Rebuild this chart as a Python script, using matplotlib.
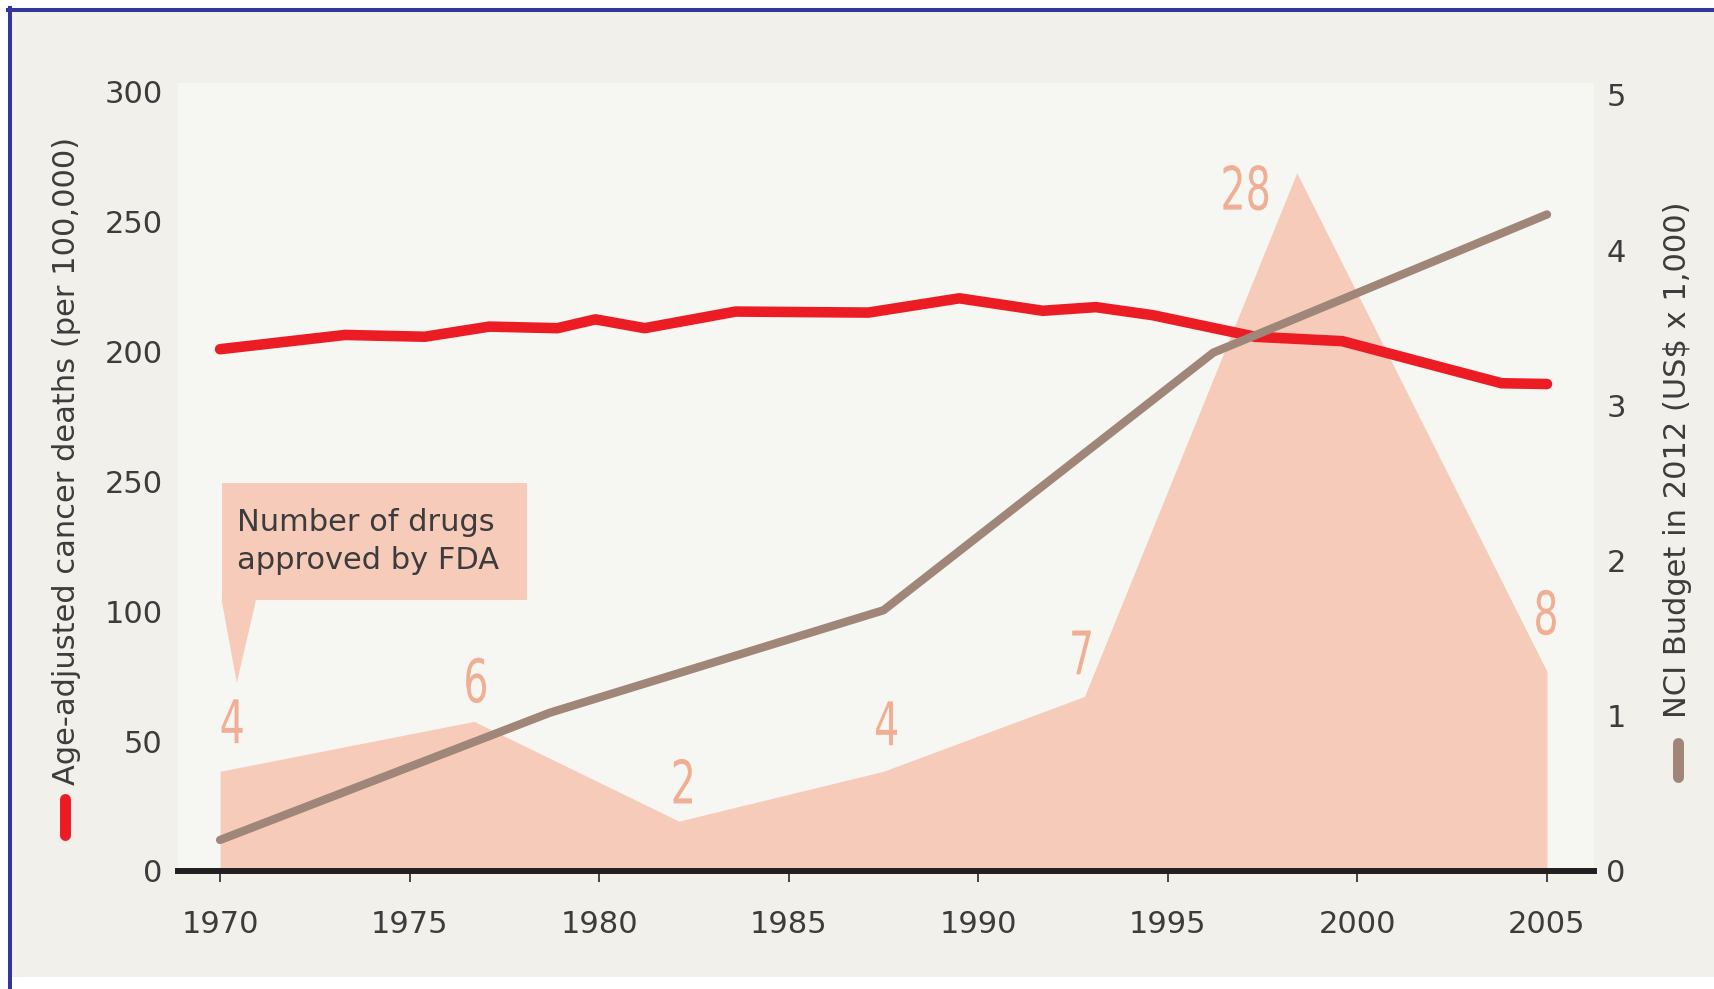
import matplotlib.pyplot as plt
import matplotlib.transforms as mtransforms
from matplotlib.patches import Rectangle, Polygon, PathPatch
from matplotlib.lines import Line2D
from matplotlib.textpath import TextPath
from matplotlib.font_manager import FontProperties

# age-adjusted cancer deaths per 100,000
death_years = [1970, 1973.3, 1975.4, 1977.1, 1978.9, 1979.9, 1981.2, 1983.6,
               1987.1, 1989.5, 1991.7, 1993.1, 1994.6, 1997.3, 1999.6, 2003.8, 2005]
deaths = [200.9, 206.4, 205.7, 209.6, 209.0, 212.4, 209.0, 215.4,
          215.0, 220.5, 215.7, 217.1, 214.0, 205.7, 204.0, 187.8, 187.5]

# NCI budget, 2012 US$ x 1,000
budget_years = [1970, 1978.7, 1987.5, 1996.2, 2005]
budget = [0.20, 1.02, 1.68, 3.34, 4.23]

# drugs approved by FDA
drug_years = [1970, 1976.7, 1982.1, 1987.5, 1992.8, 1998.4, 2005]
drugs = [4, 6, 2, 4, 7, 28, 8]

year_ticks = [1970, 1975, 1980, 1985, 1990, 1995, 2000, 2005]
death_ticks = [0, 50, 100, 150, 200, 250, 300]
death_tick_labels = ['0', '50', '100', '250', '200', '250', '300']
budget_ticks = [0, 1, 2, 3, 4, 5]

RED = '#ec1c24'
BROWN = '#a08679'
PEACH = '#f6cbb9'
PEACH_TXT = '#f0ae94'
TXT = '#3c3c3c'
W, H = 1714, 989

plt.rcParams['font.family'] = ['DejaVu Sans']

fig = plt.figure(figsize=(W / 100, H / 100), dpi=100, facecolor='white')

# page background and blue frame
fig.add_artist(Rectangle((12 / W, 1 - 977 / H), 1 - 12 / W, (977 - 12) / H,
                         transform=fig.transFigure, facecolor='#f1f0ea',
                         edgecolor='none', zorder=0))
fig.add_artist(Line2D([8 / W, 1], [1 - 10 / H, 1 - 10 / H], transform=fig.transFigure,
                      color='#35359a', lw=2.9, zorder=1))
fig.add_artist(Line2D([10 / W, 10 / W], [0, 1 - 8 / H], transform=fig.transFigure,
                      color='#35359a', lw=2.9, zorder=1))

ax = fig.add_axes([178 / W, 1 - 871 / H, (1594 - 178) / W, (871 - 83) / H])
ax.set_facecolor('#f6f6f2')
ax.set_xlim(1968.89, 2006.24)
ax.set_ylim(0, 31.6)

# drug approvals as filled area
ax.fill_between(drug_years, drugs, 0, color=PEACH, lw=0, zorder=1)


def narrow_label(axes, s, x, y, off, size=60, squeeze=0.66):
    # condensed number drawn as a squeezed text path, centred off pixels from (x, y)
    tp = TextPath((0, 0), s, size=size, prop=FontProperties(family='DejaVu Sans'))
    ext = tp.get_extents()
    cx = (ext.x0 + ext.x1) / 2
    cy = (ext.y0 + ext.y1) / 2
    tr = (mtransforms.Affine2D().translate(-cx, -cy).scale(squeeze, 1.0)
          .translate(off[0], off[1])
          + mtransforms.ScaledTranslation(x, y, axes.transData))
    axes.add_artist(PathPatch(tp, transform=tr, facecolor=PEACH_TXT,
                              edgecolor='none', zorder=2))


label_offsets = [(12, 50), (2, 41), (4, 40), (3, 48), (-3, 44), (-51, -15), (-1, 59)]
for yr, n, off in zip(drug_years, drugs, label_offsets):
    narrow_label(ax, str(n), yr, n, off)

for s in ['top', 'left', 'right']:
    ax.spines[s].set_visible(False)
ax.spines['bottom'].set_linewidth(4.3)
ax.spines['bottom'].set_color('#231f20')
ax.spines['bottom'].set_zorder(5)
ax.yaxis.set_visible(False)
ax.set_xticks(year_ticks)
ax.set_xticklabels([str(y) for y in year_ticks])
ax.tick_params(axis='x', direction='out', length=8, width=1.4, color='#444444',
               pad=20, labelsize=22, labelcolor=TXT)

# deaths on the left scale
ax_d = ax.twinx()
ax_d.set_ylim(0, 303.4)
ax_d.yaxis.tick_left()
ax_d.set_yticks(death_ticks)
ax_d.set_yticklabels(death_tick_labels)
ax_d.tick_params(axis='y', length=0, pad=11, labelsize=22, labelcolor=TXT)
for s in ax_d.spines.values():
    s.set_visible(False)
ax_d.plot(death_years, deaths, color=RED, lw=7.6, solid_capstyle='round',
          solid_joinstyle='round', zorder=3)

# callout box for the drug series
ax_d.add_patch(Rectangle((1970.04, 104.4), 8.06, 45.0, facecolor=PEACH,
                         edgecolor='none', zorder=2))
ax_d.add_patch(Polygon([(1970.04, 104.5), (1970.95, 104.5), (1970.44, 72.4)],
                       closed=True, facecolor=PEACH, edgecolor='none', zorder=2))
ax_d.text(1970.44, 127.0, 'Number of drugs\napproved by FDA', ha='left', va='center',
          fontsize=22, color=TXT, linespacing=1.38, zorder=3)

# budget on the right scale
ax_b = ax.twinx()
ax_b.set_ylim(0, 5.077)
ax_b.set_yticks(budget_ticks)
ax_b.tick_params(axis='y', length=0, pad=9, labelsize=22, labelcolor=TXT)
for s in ax_b.spines.values():
    s.set_visible(False)
ax_b.plot(budget_years, budget, color=BROWN, lw=6.0, solid_capstyle='round',
          solid_joinstyle='round', zorder=3)

# axis titles with coloured keys
fig.text(67 / W, 1 - 461 / H, 'Age-adjusted cancer deaths (per 100,000)', rotation=90,
         ha='center', va='center', fontsize=22, color=TXT)
fig.text(1678 / W, 1 - 460 / H, 'NCI Budget in 2012 (US$ x 1,000)', rotation=90,
         ha='center', va='center', fontsize=22, color=TXT)
fig.add_artist(Line2D([65 / W, 65 / W], [1 - 798.5 / H, 1 - 834.5 / H],
                      transform=fig.transFigure, color=RED, lw=7.9,
                      solid_capstyle='round'))
fig.add_artist(Line2D([1678 / W, 1678 / W], [1 - 742.5 / H, 1 - 776.5 / H],
                      transform=fig.transFigure, color=BROWN, lw=7.9,
                      solid_capstyle='round'))

fig.savefig('out.png', dpi=100)
